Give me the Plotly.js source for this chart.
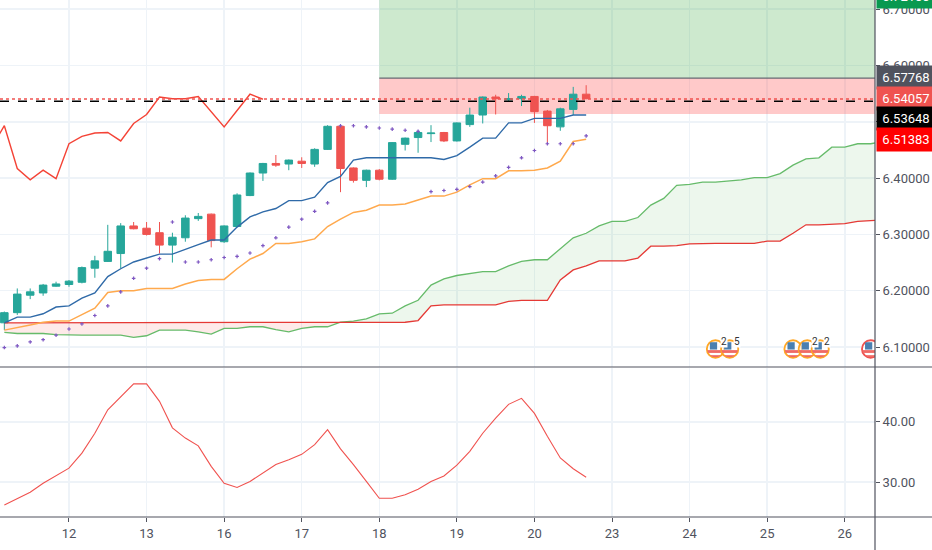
<!DOCTYPE html>
<html>
<head>
<meta charset="utf-8">
<script src="https://cdn.plot.ly/plotly-3.0.1.min.js"></script>
<style>
  html, body { margin: 0; padding: 0; background: #fff; }
  #chart { width: 932px; height: 550px; }
</style>
</head>
<body>
<div id="chart"></div>
<script>
// candles, first one sits five bars before the "12" tick
const opens = [6.143,6.161,6.192,6.196,6.208,6.211,6.215,6.240,6.252,6.266,6.315,6.311,6.303,6.281,6.294,6.328,6.336,6.287,6.314,6.369,6.409,6.426,6.425,6.430,6.425,6.451,6.492,6.418,6.396,6.414,6.398,6.460,6.472,6.479,6.481,6.466,6.495,6.512,6.544,6.539,6.541,6.545,6.519,6.491,6.522,6.549];
const highs = [6.163,6.204,6.204,6.212,6.216,6.219,6.243,6.262,6.317,6.320,6.322,6.322,6.322,6.303,6.334,6.338,6.337,6.316,6.373,6.410,6.427,6.441,6.433,6.437,6.453,6.494,6.494,6.419,6.415,6.416,6.464,6.472,6.485,6.494,6.482,6.499,6.525,6.545,6.548,6.551,6.548,6.546,6.521,6.525,6.562,6.565];
const lows = [6.130,6.157,6.185,6.191,6.207,6.207,6.213,6.223,6.251,6.240,6.309,6.298,6.266,6.250,6.287,6.324,6.277,6.285,6.313,6.368,6.395,6.420,6.414,6.418,6.420,6.450,6.375,6.392,6.384,6.396,6.397,6.449,6.445,6.464,6.464,6.465,6.491,6.497,6.513,6.536,6.528,6.498,6.459,6.484,6.512,6.540];
const closes = [6.161,6.194,6.198,6.210,6.212,6.217,6.241,6.253,6.270,6.315,6.310,6.300,6.281,6.295,6.329,6.332,6.289,6.315,6.370,6.409,6.426,6.423,6.432,6.426,6.451,6.492,6.417,6.396,6.414,6.398,6.463,6.471,6.481,6.480,6.466,6.498,6.512,6.544,6.541,6.541,6.545,6.518,6.493,6.523,6.549,6.541];

const baseLine = [6.143,6.153,6.153,6.159,6.171,6.173,6.187,6.196,6.225,6.239,6.251,6.258,6.265,6.265,6.274,6.282,6.290,6.290,6.313,6.331,6.340,6.346,6.360,6.360,6.366,6.392,6.403,6.432,6.436,6.436,6.436,6.436,6.436,6.436,6.433,6.440,6.455,6.471,6.471,6.498,6.498,6.506,6.506,6.506,6.512,6.512];
const slowLine = [6.130,6.134,6.139,6.144,6.146,6.146,6.157,6.169,6.197,6.200,6.200,6.204,6.204,6.204,6.212,6.218,6.220,6.220,6.239,6.256,6.266,6.284,6.284,6.287,6.292,6.314,6.327,6.339,6.343,6.352,6.352,6.354,6.361,6.368,6.368,6.375,6.388,6.399,6.399,6.413,6.413,6.414,6.418,6.430,6.465,6.469];
const sarDots = [6.099,6.102,6.109,6.113,6.121,6.132,6.141,6.156,6.173,6.198,6.222,6.240,6.257,6.322,6.251,6.251,6.255,6.259,6.261,6.267,6.280,6.294,6.313,6.327,6.341,6.356,6.493,6.493,6.491,6.489,6.487,6.485,6.483,6.376,6.378,6.380,6.385,6.393,6.404,6.419,6.436,6.449,6.461,6.461,6.461,6.475];

// lagging line starts one bar earlier than the candles
const lagLine = [6.454,6.493,6.417,6.397,6.414,6.399,6.461,6.474,6.480,6.481,6.466,6.497,6.513,6.544,6.541,6.541,6.545,6.519,6.491,6.520,6.549,6.540];

// cloud, same start as candles, runs past the right edge
const leadA = [6.126,6.124,6.124,6.124,6.122,6.121,6.121,6.121,6.121,6.121,6.117,6.120,6.130,6.130,6.130,6.127,6.123,6.133,6.133,6.136,6.136,6.131,6.127,6.133,6.136,6.136,6.144,6.146,6.150,6.159,6.160,6.173,6.183,6.210,6.221,6.227,6.230,6.234,6.234,6.244,6.252,6.255,6.255,6.275,6.294,6.302,6.315,6.323,6.323,6.330,6.352,6.364,6.387,6.389,6.393,6.393,6.395,6.397,6.401,6.401,6.408,6.423,6.434,6.436,6.455,6.455,6.461,6.461,6.465];
const leadB = [6.143,6.143,6.143,6.143,6.143,6.143,6.143,6.143,6.143,6.143,6.143,6.143,6.143,6.143,6.143,6.143,6.143,6.143,6.143,6.143,6.143,6.143,6.143,6.143,6.143,6.143,6.143,6.143,6.143,6.143,6.144,6.144,6.147,6.173,6.175,6.175,6.175,6.175,6.175,6.181,6.183,6.183,6.183,6.219,6.237,6.244,6.253,6.253,6.253,6.258,6.279,6.279,6.280,6.283,6.284,6.284,6.284,6.284,6.284,6.288,6.288,6.302,6.317,6.317,6.318,6.319,6.323,6.325,6.326];

const oscillator = [26.2,27.3,28.3,29.8,31.0,32.3,34.8,38.1,42.0,44.1,46.3,46.3,43.4,39.0,37.3,36.0,32.6,29.8,29.1,30.1,31.5,32.9,33.7,34.6,36.2,38.7,35.5,32.9,30.1,27.3,27.3,27.9,28.8,30.1,31.0,32.8,35.1,38.1,40.6,42.9,43.9,41.4,37.6,34.0,32.2,30.8];

const dayLabels = ['12','13','16','17','18','19','20','23','24','25','26'];
const dayTicks = [0,6,12,18,24,30,36,42,48,54,60];
const priceTicks = [6.1,6.2,6.3,6.4,6.5,6.6,6.7];
const oscTicks = [30,40];

const zoneStart = 24;
const stopPrice = 6.57768, lastPrice = 6.54057, entryPrice = 6.53648, floorPrice = 6.51383;
const eventBars = [50,51.1,56,57.1,58.1,62];
const eventPrice = 6.0965;
const eventTags = [[50.66,'2'],[51.66,'5'],[57.7,'2'],[58.62,'2']];

const labelTexts = ['6.72100','6.57768','6.54057','6.53648','6.51383'];
const labelFills = ['#089950','#50535e','#ef5350','#000000','#ff0000'];

const green = '#26a69a', red = '#ef5350';
const bars = closes.map((_, i) => i - 5);
const lagBars = lagLine.map((_, i) => i - 6);
const cloudBars = leadA.map((_, i) => i - 5);
const CROSS = 26; // leads meet here

// page pixels to paper coords, plot is 875 wide and 517 high
const px = v => v / 875;
const py = v => (517 - v) / 517;

function line(x, y, color, width, yaxis) {
  return { x, y, type: 'scatter', mode: 'lines', yaxis: yaxis || 'y', line: { color, width }, hoverinfo: 'skip' };
}

const traces = [
  line(cloudBars.slice(0, CROSS + 1), leadB.slice(0, CROSS + 1), 'rgba(0,0,0,0)', 0),
  Object.assign(line(cloudBars.slice(0, CROSS + 1), leadA.slice(0, CROSS + 1), 'rgba(0,0,0,0)', 0), { fill: 'tonexty', fillcolor: 'rgba(244,67,54,0.11)' }),
  line(cloudBars.slice(CROSS), leadB.slice(CROSS), 'rgba(0,0,0,0)', 0),
  Object.assign(line(cloudBars.slice(CROSS), leadA.slice(CROSS), 'rgba(0,0,0,0)', 0), { fill: 'tonexty', fillcolor: 'rgba(76,175,80,0.1)' }),
  line(cloudBars, leadA, '#66bb6a', 1.3),
  line(cloudBars, leadB, '#e53935', 1.3),
  {
    x: bars, open: opens, high: highs, low: lows, close: closes, type: 'candlestick',
    increasing: { line: { color: green, width: 1 }, fillcolor: green },
    decreasing: { line: { color: red, width: 1 }, fillcolor: red },
    whiskerwidth: 0, hoverinfo: 'skip'
  },
  line(bars, baseLine, '#2f6aa8', 1.4),
  line(bars, slowLine, '#ffa94d', 1.5),
  line(lagBars, lagLine, '#f44336', 1.4),
  {
    x: bars, y: sarDots, type: 'scatter', mode: 'markers', hoverinfo: 'skip',
    marker: { symbol: 'cross', size: 3, color: '#7e57c2' }
  },
  line(bars, oscillator, '#f0524f', 1.1, 'y2')
];

function hline(y, color, width, dash) {
  return { type: 'line', xref: 'paper', yref: 'y', x0: 0, x1: 1, y0: y, y1: y, line: { color, width, dash }, layer: 'above' };
}
function rule(x0, y0, x1, y1) {
  return { type: 'line', xref: 'paper', yref: 'paper', x0, y0, x1, y1, line: { color: '#50535e', width: 1.2 }, layer: 'above' };
}

const shapes = [
  { type: 'rect', xref: 'x', yref: 'y', x0: zoneStart, x1: 62.34, y0: stopPrice, y1: 6.72, fillcolor: 'rgba(76,175,80,0.28)', line: { width: 0 }, layer: 'between' },
  { type: 'rect', xref: 'x', yref: 'y', x0: zoneStart, x1: 62.34, y0: floorPrice, y1: stopPrice, fillcolor: 'rgba(255,82,82,0.31)', line: { width: 0 }, layer: 'between' },
  { type: 'line', xref: 'x', yref: 'y', x0: zoneStart, x1: 62.34, y0: stopPrice, y1: stopPrice, line: { color: '#666a72', width: 1.3 }, layer: 'above' },
  hline(lastPrice, '#ef5350', 1.5, 'dot'),
  hline(entryPrice, '#000000', 1.3, 'dash'),
  rule(1, py(550), 1, 1),
  rule(0, py(517), px(932), py(517)),
  rule(0, py(367), px(932), py(367))
];

const labelCenters = [-4, 77.5, 98, 118.5, 139.5];
const annotations = labelTexts.map((t, i) => ({
  xref: 'paper', yref: 'paper', x: px(876), y: py(labelCenters[i]),
  xanchor: 'left', yanchor: 'middle', text: t, showarrow: false,
  width: 56, height: 21, align: 'center', bgcolor: labelFills[i],
  font: { family: 'Roboto, sans-serif', size: 13, color: '#fff' }
}));
eventTags.forEach(tag => annotations.push({
  xref: 'x', yref: 'y', x: tag[0], y: 6.109, text: tag[1], showarrow: false,
  bgcolor: '#fff', borderpad: 0, font: { family: 'Roboto, sans-serif', size: 10, color: '#333' }
}));

// small calendar flag badge, ring colour by importance
function badge(ring) {
  return 'data:image/svg+xml;utf8,' + encodeURIComponent(
    '<svg xmlns="http://www.w3.org/2000/svg" viewBox="0 0 36 36">' +
    '<clipPath id="c"><circle cx="18" cy="18" r="15"/></clipPath>' +
    '<circle cx="18" cy="18" r="15.5" fill="#fff" fill-opacity="0.6" stroke="' + ring + '" stroke-width="3.4"/>' +
    '<g clip-path="url(#c)"><rect x="0" y="20" width="36" height="5" fill="#ef6a66"/><rect x="0" y="29" width="36" height="4" fill="#ef6a66"/>' +
    '<rect x="8" y="6" width="13" height="13" fill="#4a7fb0"/></g></svg>');
}
const images = eventBars.map((b, i) => ({
  source: badge(i === 5 ? '#ef5350' : '#ffa726'), xref: 'x', yref: 'y', x: b, y: eventPrice, sizex: 1.55, sizey: 0.036,
  xanchor: 'center', yanchor: 'middle', sizing: 'stretch', layer: 'above'
}));

const tickFont = { family: 'Roboto, sans-serif', size: 13, color: '#50535e' };
const gridColor = '#eef3f8';

const layout = {
  width: 932, height: 550,
  margin: { l: 0, r: 57, t: 0, b: 33, pad: 0 },
  paper_bgcolor: '#fff', plot_bgcolor: '#fff',
  showlegend: false, boxgap: 0.42, boxgroupgap: 0,
  xaxis: {
    range: [-5.336, 62.34], anchor: 'y2', tickmode: 'array', tickvals: dayTicks, ticktext: dayLabels,
    showgrid: true, gridcolor: gridColor, gridwidth: 1.5, zeroline: false, ticks: 'outside', ticklen: 4,
    tickcolor: '#50535e', tickfont: tickFont, rangeslider: { visible: false }
  },
  yaxis: {
    domain: [150 / 517, 1], range: [6.0645, 6.7163], side: 'right', anchor: 'x', tickmode: 'array',
    tickvals: priceTicks, tickformat: '.5f', showgrid: true, gridcolor: gridColor, gridwidth: 1.5, zeroline: false,
    ticks: 'outside', ticklen: 4, tickcolor: '#50535e', tickfont: tickFont
  },
  yaxis2: {
    domain: [0, 149 / 517], range: [24.19, 48.94], side: 'right', anchor: 'x', tickmode: 'array',
    tickvals: oscTicks, tickformat: '.2f', showgrid: true, gridcolor: gridColor, gridwidth: 1.5, zeroline: false,
    ticks: 'outside', ticklen: 4, tickcolor: '#50535e', tickfont: tickFont
  },
  shapes, annotations, images
};

Plotly.newPlot('chart', traces, layout, { displayModeBar: false, staticPlot: true });
</script>
</body>
</html>
